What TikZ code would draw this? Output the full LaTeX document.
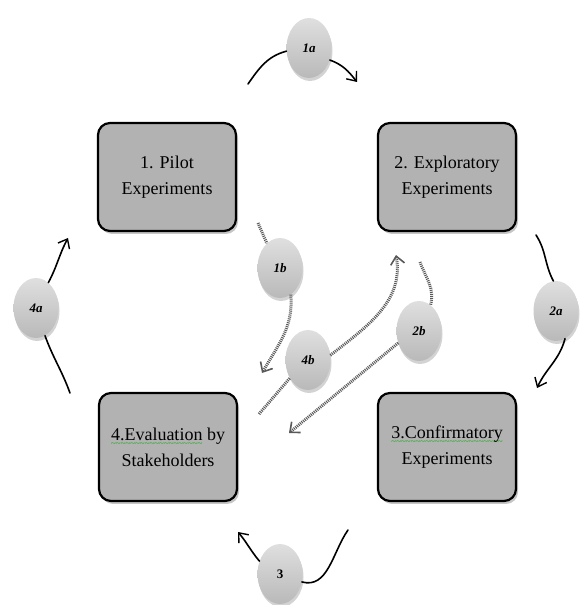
\documentclass[tikz,border=0pt]{standalone}
\usepackage{fontspec}
\setmainfont{Liberation Serif}
\usepackage{tikz}
\usetikzlibrary{shapes.geometric, arrows.meta, shadows}
\definecolor{cBox}{RGB}{178,178,178}
\definecolor{cSpell}{RGB}{60,175,60}
% green wavy mark under a word
\newcommand{\spellmark}[1]{\setbox0\hbox{#1}\rlap{\raisebox{-6pt}[0pt][0pt]{\textcolor{cSpell}{\hbox to \wd0{\xleaders\hbox{\fontsize{9}{9}\selectfont\bfseries\char"7E}\hfill}}}}\box0\relax}
\tikzset{
	stage/.style   ={rectangle, rounded corners=12pt, draw=black, line width=2.2pt, fill=cBox, minimum width=138pt, minimum height=108pt, align=center, font=\fontsize{18}{26}\selectfont, drop shadow={shadow xshift=2pt, shadow yshift=-3pt, opacity=.45}},
	tag/.style     ={ellipse, minimum width=45pt, minimum height=60pt, inner sep=0pt, top color=gray!25, bottom color=gray!55, draw=none, font=\fontsize{13}{15}\selectfont\bfseries\itshape, drop shadow={shadow xshift=1pt, shadow yshift=-3pt, opacity=.35}},
	% solid loop arrows
	loop/.style    ={line width=1.6pt, black, line cap=round},
	looptip/.style ={loop, -{Straight Barb[length=8pt, width=13pt, line width=1.4pt]}},
	% striped feedback arrows
	back/.style    ={line width=3pt, gray!70!black, dash pattern=on 1pt off 1pt},
	backtip/.style ={back, -{Straight Barb[length=8pt, width=14pt, line width=1.6pt]}},
}
\begin{document}
\begin{tikzpicture}[x=1pt, y=1pt]
	\useasboundingbox (0,0) rectangle (579,605);
	% the four stages
	\node[stage] (pilot) at (167,428) {1. Pilot\\Experiments};
	\node[stage] (expl)  at (447,428) {2. Exploratory\\Experiments};
	\node[stage] (conf)  at (447,158) {\spellmark{3.Confirmatory}\\Experiments};
	\node[stage] (eval)  at (168,158) {\spellmark{4.Evaluation} by\\Stakeholders};
	% labels on the arrows
	\node[tag] (t1a) at (309,557) {1a};
	\node[tag] (t1b) at (280,337) {1b};
	\node[tag] (t4b) at (308,245) {4b};
	\node[tag] (t2b) at (419,274) {2b};
	\node[tag] (t2a) at (556,294) {2a};
	\node[tag] (t4a) at (36,297)  {4a};
	\node[tag, font=\fontsize{13}{15}\selectfont\bfseries] (t3) at (280,31) {3};
	% free ends
	\coordinate (s1a) at (248,521); \coordinate (e1a) at (357,523);
	\coordinate (s2a) at (536,370); \coordinate (e2a) at (537,217);
	\coordinate (s3)  at (348,75);  \coordinate (e3)  at (238,73);
	\coordinate (s4a) at (70,212);  \coordinate (e4a) at (68,367);
	\coordinate (s1b) at (258,382); \coordinate (e1b) at (262,232);
	\coordinate (s4b) at (259,191); \coordinate (e4b) at (396,350);
	\coordinate (s2b) at (420,343); \coordinate (e2b) at (289,172);
	% outer loop
	\draw[loop] (s1a) to[out=55, in=195] (t1a.188);
	\draw[looptip] (t1a.-30) to[out=-20, in=128] (e1a);
	\draw[loop] (s2a) to[out=-57, in=118] (t2a.95);
	\draw[looptip] (t2a.-72) to[out=-105, in=65] (e2a);
	\draw[loop] (s3) to[out=-125, in=-15] (t3.-20);
	\draw[looptip] (t3.148) to[out=130, in=-50] (e3);
	\draw[loop] (s4a) to[out=110, in=-70] (t4a.-72);
	\draw[looptip] (t4a.64) to[out=62, in=-118] (e4a);
	% feedback paths
	\draw[back] (s1b) -- (t1b.118);
	\draw[backtip] (t1b.-68) to[out=-85, in=60] (e1b);
	\draw[back] (s4b) -- (t4b.-135);
	\draw[backtip] (t4b.12) to[out=38, in=-80] (e4b);
	\draw[back] (s2b) to[out=-70, in=75] (t2b.66);
	\draw[backtip] (t2b.-150) -- (e2b);
\end{tikzpicture}
\end{document}
